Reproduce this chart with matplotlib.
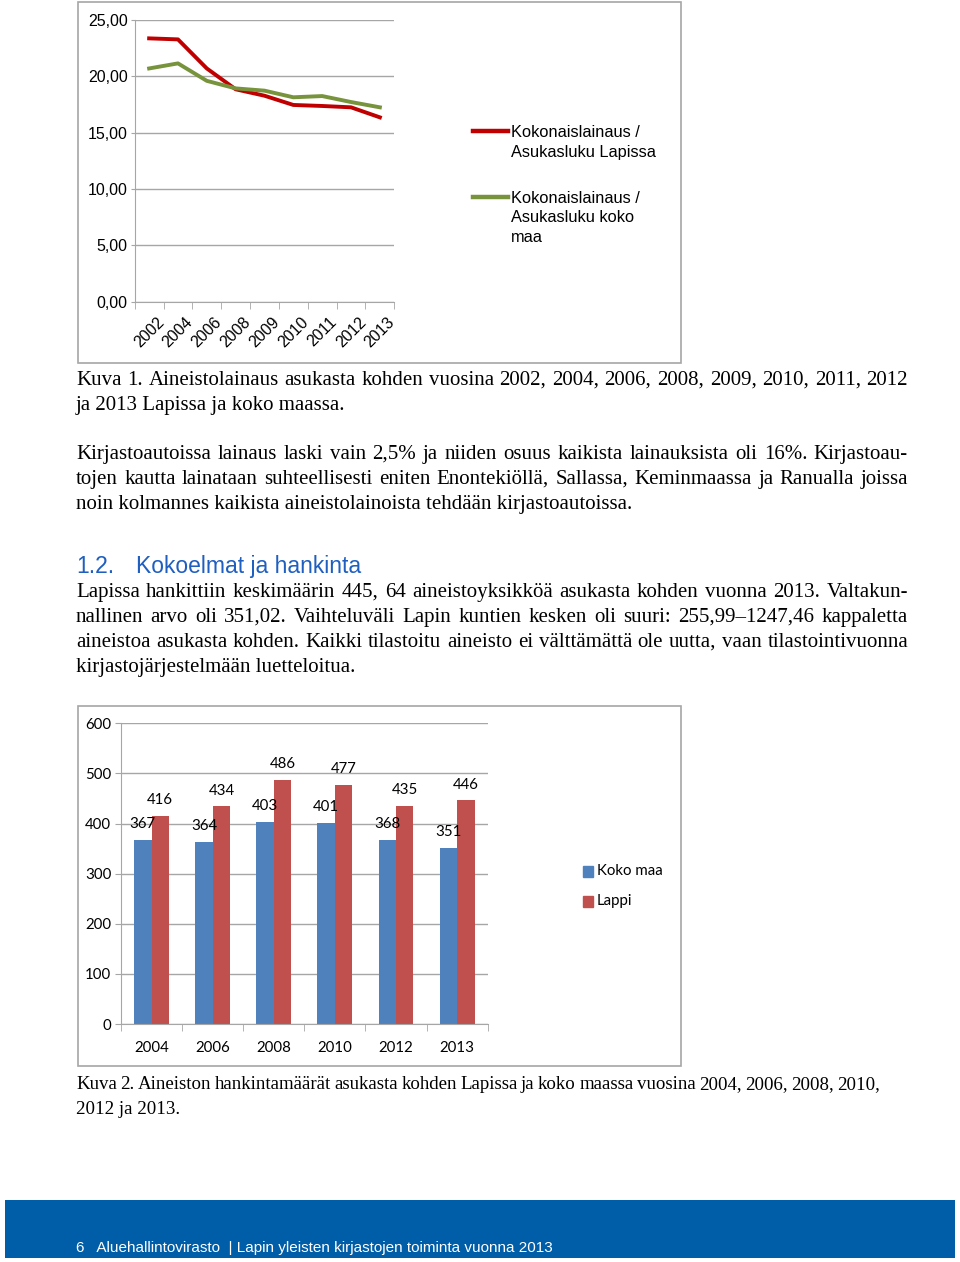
import matplotlib
matplotlib.use("Agg")
import matplotlib.pyplot as plt
from matplotlib.patches import Rectangle
from matplotlib.lines import Line2D
import numpy as np

W, H = 960, 1262

# ---------------- data ----------------
years1 = ["2002", "2004", "2006", "2008", "2009", "2010", "2011", "2012", "2013"]
lappi_loans = [23.37, 23.28, 20.70, 18.85, 18.28, 17.46, 17.37, 17.25, 16.36]
koko_loans = [20.70, 21.15, 19.60, 18.93, 18.73, 18.14, 18.25, 17.72, 17.25]
series1_labels = ["Kokonaislainaus /\nAsukasluku Lapissa", "Kokonaislainaus /\nAsukasluku koko\nmaa"]
y1_ticks = [0, 5, 10, 15, 20, 25]

years2 = ["2004", "2006", "2008", "2010", "2012", "2013"]
koko_maa = [367, 364, 403, 401, 368, 351]
lappi = [416, 434, 486, 477, 435, 446]
series2_labels = ["Koko maa", "Lappi"]
y2_ticks = [0, 100, 200, 300, 400, 500, 600]

fig = plt.figure(figsize=(W / 100, H / 100), dpi=100)
fig.patch.set_facecolor("white")


def fx(x):
    return x / W


def fy(y):
    return 1 - y / H


def ax_rect(l, t, r, b):
    return [fx(l), fy(b), (r - l) / W, (b - t) / H]


def box(l, t, r, b, ec="#A6A6A6", fc="none", lw=1.2, z=0):
    fig.add_artist(Rectangle((fx(l), fy(b)), (r - l) / W, (b - t) / H,
                             transform=fig.transFigure, ec=ec, fc=fc, lw=lw, zorder=z))


GRID = "#A6A6A6"
SANS = "Liberation Sans"

# ---------------- chart 1 ----------------
box(78, 2, 681, 363)
ax1 = fig.add_axes(ax_rect(134.7, 20, 394.3, 301.7))
x1 = np.arange(len(years1))
c_red, c_green = "#C00000", "#77933C"
ax1.plot(x1, lappi_loans, color=c_red, lw=2.8, solid_joinstyle="round")
ax1.plot(x1, koko_loans, color=c_green, lw=2.8, solid_joinstyle="round")
ax1.set_xlim(-0.5, len(years1) - 0.5)
ax1.set_ylim(0, 25)
ax1.set_yticks(y1_ticks)
ax1.set_yticklabels([f"{v:.2f}".replace(".", ",") for v in y1_ticks],
                    fontfamily=SANS, fontsize=11.5)
ax1.set_xticks(x1)
ax1.set_xticklabels(years1, rotation=45, ha="center", va="top",
                    fontfamily=SANS, fontsize=11.5)
ax1.set_xticks(np.arange(-0.5, len(years1)), minor=True)
ax1.tick_params(axis="x", which="major", length=0, pad=9)
ax1.tick_params(axis="x", which="minor", length=5, color=GRID, direction="out")
ax1.tick_params(axis="y", length=3, color=GRID, pad=2)
ax1.grid(axis="y", color=GRID, lw=1)
ax1.set_axisbelow(True)
for s in ["top", "right"]:
    ax1.spines[s].set_visible(False)
for s in ["left", "bottom"]:
    ax1.spines[s].set_color(GRID)
ax1.patch.set_alpha(0)

# legend 1
for col, lab, ly in [(c_red, series1_labels[0], 131), (c_green, series1_labels[1], 197)]:
    fig.add_artist(Line2D([fx(473), fx(508)], [fy(ly), fy(ly)], color=col, lw=3.2,
                          transform=fig.transFigure))
    for i, part in enumerate(lab.split("\n")):
        fig.text(fx(511), fy(ly + 6 + 19.5 * i), part, fontfamily=SANS, fontsize=11.8,
                 va="baseline", ha="left")

# ---------------- chart 2 ----------------
box(78, 706, 681, 1066)
ax2 = fig.add_axes(ax_rect(121, 723.3, 487.7, 1024))
x2 = np.arange(len(years2))
bw = 0.2857
c_blue, c_bred = "#4F81BD", "#C0504D"
b1 = ax2.bar(x2 - bw / 2, koko_maa, bw, color=c_blue, zorder=2)
b2 = ax2.bar(x2 + bw / 2, lappi, bw, color=c_bred, zorder=2)
for bars, vals in [(b1, koko_maa), (b2, lappi)]:
    for r, v in zip(bars, vals):
        ax2.annotate(str(v), (r.get_x() + r.get_width() / 2, v), xytext=(0, 11.5),
                     textcoords="offset points", ha="center", va="center",
                     fontfamily="Lato", fontsize=10.8, zorder=3)
ax2.set_xlim(-0.5, len(years2) - 0.5)
ax2.set_ylim(0, 600)
ax2.set_yticks(y2_ticks)
ax2.set_yticklabels([str(v) for v in y2_ticks], fontfamily="Lato", fontsize=10.8)
ax2.set_xticks(x2)
ax2.set_xticklabels(years2, fontfamily="Lato", fontsize=10.8)
ax2.set_xticks(np.arange(-0.5, len(years2)), minor=True)
ax2.tick_params(axis="x", which="major", length=0, pad=12)
ax2.tick_params(axis="x", which="minor", length=5, color=GRID)
ax2.tick_params(axis="y", length=4, color=GRID, pad=3)
ax2.grid(axis="y", color=GRID, lw=1, zorder=0)
ax2.set_axisbelow(True)
for s in ["top", "right"]:
    ax2.spines[s].set_visible(False)
for s in ["left", "bottom"]:
    ax2.spines[s].set_color(GRID)
ax2.patch.set_alpha(0)

for col, lab, ly in [(c_blue, series2_labels[0], 871), (c_bred, series2_labels[1], 901)]:
    fig.add_artist(Rectangle((fx(583), fy(ly + 5.5)), 10 / W, 11 / H, color=col,
                             transform=fig.transFigure))
    fig.text(fx(597), fy(ly), lab, fontfamily="Lato", fontsize=10.8, va="center", ha="left")

# ---------------- body text ----------------
SERIF = "Liberation Serif"
FS = 15
renderer = fig.canvas.get_renderer()


def line(text, y, x0=76, x1=908, justify=False, fontsize=FS, **kw):
    kw.setdefault("fontfamily", SERIF)
    if not justify:
        fig.text(fx(x0), fy(y), text, va="baseline", ha="left", fontsize=fontsize, **kw)
        return fontsize
    words = text.split(" ")
    total = x1 - x0
    fs = fontsize
    while True:
        objs = [fig.text(0, fy(y), w, va="baseline", ha="left", fontsize=fs, **kw) for w in words]
        widths = [o.get_window_extent(renderer).width for o in objs]
        gap = (total - sum(widths)) / max(len(words) - 1, 1)
        if gap >= fs * 0.2 or fs < 8:
            break
        for o in objs:
            o.remove()
        fs -= 0.2
    x = x0
    for o, w in zip(objs, widths):
        o.set_x(fx(x))
        x += w + gap
    return fs


line("Kuva 1. Aineistolainaus asukasta kohden vuosina 2002, 2004, 2006, 2008, 2009, 2010, 2011, 2012", 385, justify=True)
line("ja 2013 Lapissa ja koko maassa.", 410)
line("Kirjastoautoissa lainaus laski vain 2,5% ja niiden osuus kaikista lainauksista oli 16%. Kirjastoau-", 459, justify=True)
line("tojen kautta lainataan suhteellisesti eniten Enontekiöllä, Sallassa, Keminmaassa ja Ranualla joissa", 484, justify=True)
line("noin kolmannes kaikista aineistolainoista tehdään kirjastoautoissa.", 509)

HEAD = "#1F5FC0"
fig.text(fx(76), fy(573), "1.2.", fontfamily=SANS, fontsize=16.5, color=HEAD, va="baseline")
fig.text(fx(136), fy(573), "Kokoelmat ja hankinta", fontfamily=SANS, fontsize=16.5,
         color=HEAD, va="baseline")

line("Lapissa hankittiin keskimäärin 445, 64 aineistoyksikköä asukasta kohden vuonna 2013. Valtakun-", 597, justify=True)
line("nallinen arvo oli 351,02. Vaihteluväli Lapin kuntien kesken oli suuri: 255,99–1247,46 kappaletta", 622, justify=True)
line("aineistoa asukasta kohden. Kaikki tilastoitu aineisto ei välttämättä ole uutta, vaan tilastointivuonna", 647, justify=True)
line("kirjastojärjestelmään luetteloitua.", 672)

fs2 = line("Kuva 2. Aineiston hankintamäärät asukasta kohden Lapissa ja koko maassa vuosina 2004, 2006, 2008, 2010,", 1089, x1=880, justify=True)
line("2012 ja 2013.", 1114, fontsize=fs2)

# ---------------- footer ----------------
box(5, 1200, 955, 1258, ec="none", fc="#005DA8", lw=0, z=0)
fig.text(fx(76), fy(1252), "6   Aluehallintovirasto  | Lapin yleisten kirjastojen toiminta vuonna 2013",
         fontfamily=SANS, fontsize=11, color="white", va="baseline")

fig.savefig("out.png", dpi=100, facecolor="white")
